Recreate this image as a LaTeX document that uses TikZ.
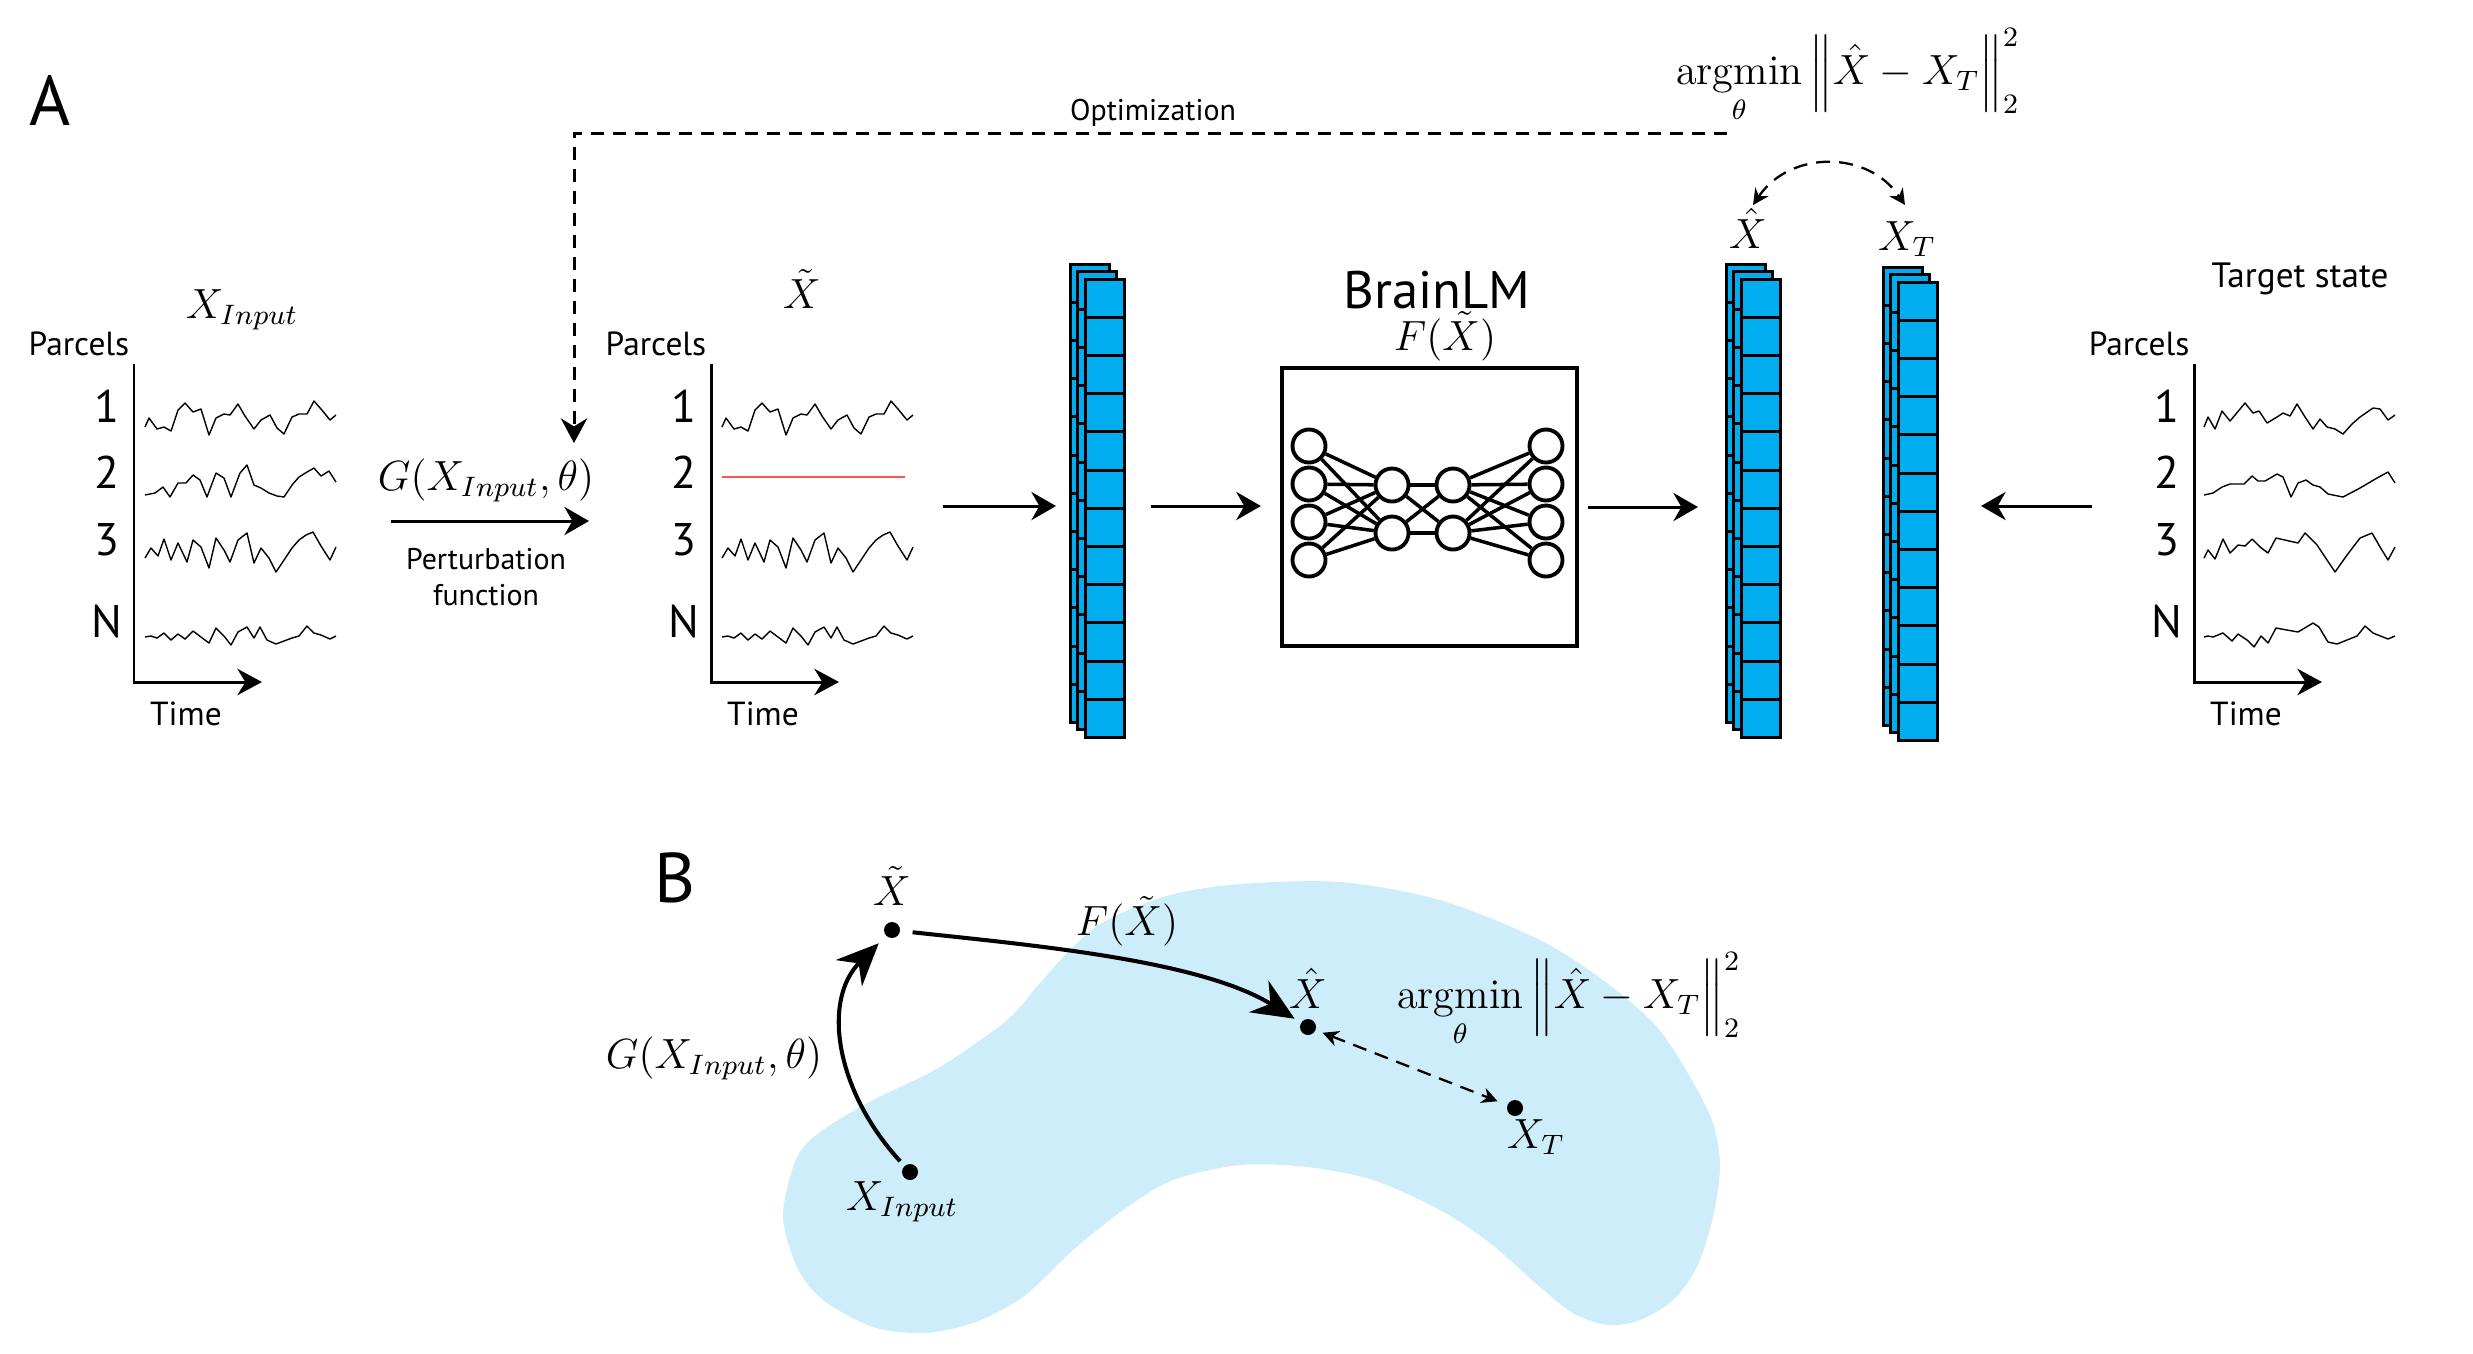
\documentclass[tikz,border=0pt]{standalone}
\usepackage{amsmath}
\usepackage{fontspec}
\setsansfont{PT Sans}
\usepackage{xcolor}
\usetikzlibrary{
    positioning,
    arrows.meta
}
\definecolor{tokenblue}{RGB}{0,174,239}
\definecolor{manifold}{RGB}{204,237,249}
\definecolor{zeroline}{RGB}{255,85,85}

\tikzset{%
    panel label/.style={%
        font=\sffamily\fontsize{20}{24}\selectfont,
        inner sep = 0pt,
    },
    axis text/.style={%
        font=\sffamily\fontsize{9.5}{11}\selectfont,
        inner sep = 0pt,
    },
    parcel id/.style={%
        font=\sffamily\fontsize{13}{15}\selectfont,
        inner sep = 0pt,
    },
    small text/.style={%
        font=\sffamily\fontsize{8.5}{10}\selectfont,
        inner sep = 0pt,
        align=center,
    },
    model title/.style={%
        font=\sffamily\fontsize{15}{17}\selectfont,
        inner sep = 0pt,
    },
    math label/.style={%
        font=\fontsize{12}{14}\selectfont,
        inner sep = 0pt,
    },
    axis line/.style={%
        line width=0.85pt,
        -{Stealth[length=7pt, width=7.5pt]},
    },
    arrow/.style={%
        line width=0.85pt,
        -{Stealth[length=7pt, width=8pt]},
    },
    trace/.style={%
        line width=0.4pt,
        line join=round,
    },
    zero line/.style={%
        draw=zeroline,
        line width=0.45pt,
    },
    token cell/.style={%
        draw=black,
        fill=tokenblue,
        line width=0.85pt,
    },
    model box/.style={%
        rectangle,
        draw,
        line width=1.15pt,
        minimum width=2.95cm,
        minimum height=2.78cm,
    },
    neuron/.style={%
        circle,
        draw,
        fill=white,
        line width=1.1pt,
        inner sep = 0pt,
        minimum size=0.33cm,
    },
    synapse/.style={%
        line width=1pt,
    },
    optimization/.style={%
        line width=0.85pt,
        dash pattern=on 0.13cm off 0.09cm,
        -{Stealth[length=7pt, width=7.5pt]},
    },
    compare/.style={%
        line width=0.65pt,
        dash pattern=on 0.14cm off 0.09cm,
        {Stealth[length=4.5pt, width=4.5pt]}-{Stealth[length=4.5pt, width=4.5pt]},
    },
    state/.style={%
        circle,
        fill=black,
        inner sep = 0pt,
        minimum size=0.16cm,
    },
    trajectory/.style={%
        line width=1.15pt,
        -{Stealth[length=12pt, width=10.5pt]},
    },
}

% parcel axes: #1 name, #2 x of the vertical axis
\newcommand{\parcelaxes}[2]{%
    \begin{scope}[shift={(#2,0)}]
        \node[axis text, anchor=base] (#1-parcels) at (-55,355) {Parcels};
        \node[parcel id, anchor=base] (#1-p1) at (-27,422) {1};
        \node[parcel id, anchor=base] (#1-p2) at (-27,488) {2};
        \node[parcel id, anchor=base] (#1-p3) at (-27,555) {3};
        \node[parcel id, anchor=base] (#1-pN) at (-27,637) {N};
        \draw[axis line] (0,364) |- (128,682);
        \node[axis text, anchor=base] (#1-time) at (52,725) {Time};
    \end{scope}
}

% token stack: #1 name, #2 #3 top left corner of the front layer
\newcommand{\tokenstack}[3]{%
    \foreach \off in {15,8,0} {
        \foreach \row in {0,...,11} {
            \draw[token cell] ({#2-\off},{#3-\off+\row*38.2}) rectangle ++(39,38.2);
        }
    }
    \coordinate (#1-w) at ({#2-15},506);
    \coordinate (#1-e) at ({#2+39},506);
}

% signals
\newcommand{\waveA}{(11,427) -- (15,418) -- (23,429) -- (30,427) -- (37,431) -- (44,410) -- (51,403) -- (59,412) -- (67,409) -- (75,435) -- (82,418) -- (90,414) -- (96,415) -- (104,404) -- (111,416) -- (120,429) -- (127,420) -- (136,415) -- (143,428) -- (150,434) -- (158,417) -- (165,414) -- (173,414) -- (180,401) -- (187,409) -- (196,420) -- (202,415)}
\newcommand{\waveB}{(11,495) -- (21,493) -- (29,487) -- (36,497) -- (44,483) -- (52,483) -- (59,475) -- (66,480) -- (73,497) -- (82,473) -- (90,478) -- (97,497) -- (106,473) -- (113,465) -- (120,485) -- (127,488) -- (135,493) -- (143,496) -- (150,497) -- (158,485) -- (165,477) -- (173,472) -- (180,468) -- (187,476) -- (195,471) -- (202,482)}
\newcommand{\waveC}{(11,558) -- (17,548) -- (24,556) -- (30,539) -- (37,560) -- (44,543) -- (53,562) -- (59,540) -- (67,547) -- (75,568) -- (82,538) -- (90,550) -- (96,562) -- (104,540) -- (113,533) -- (120,563) -- (127,548) -- (135,558) -- (142,572) -- (150,560) -- (158,548) -- (165,540) -- (172,535) -- (179,532) -- (187,546) -- (196,560) -- (202,547)}
\newcommand{\waveN}{(11,637) -- (17,636) -- (23,638) -- (30,633) -- (37,640) -- (44,634) -- (51,639) -- (59,631) -- (67,637) -- (75,643) -- (82,628) -- (90,636) -- (97,645) -- (104,632) -- (113,627) -- (120,638) -- (126,627) -- (133,640) -- (142,644) -- (150,641) -- (158,638) -- (165,636) -- (173,626) -- (180,633) -- (187,635) -- (196,639) -- (202,636)}
\newcommand{\targetA}{(10,427) -- (14,417) -- (21,429) -- (28,411) -- (36,421) -- (51,403) -- (59,413) -- (65,411) -- (73,423) -- (83,417) -- (89,413) -- (96,416) -- (103,404) -- (111,417) -- (119,429) -- (126,419) -- (133,427) -- (141,429) -- (149,434) -- (158,424) -- (166,417) -- (179,408) -- (186,409) -- (194,420) -- (201,415)}
\newcommand{\targetB}{(10,495) -- (19,493) -- (28,487) -- (36,484) -- (50,484) -- (58,476) -- (64,481) -- (71,481) -- (83,474) -- (89,477) -- (97,497) -- (104,483) -- (112,480) -- (119,485) -- (126,487) -- (134,494) -- (149,497) -- (166,488) -- (183,478) -- (194,472) -- (201,483)}
\newcommand{\targetC}{(10,558) -- (14,550) -- (21,559) -- (29,539) -- (36,553) -- (44,545) -- (51,546) -- (58,539) -- (66,547) -- (74,553) -- (82,538) -- (104,543) -- (111,533) -- (123,545) -- (131,557) -- (141,572) -- (153,555) -- (166,538) -- (178,533) -- (186,547) -- (194,560) -- (201,547)}
\newcommand{\targetN}{(10,637) -- (14,636) -- (19,637) -- (29,633) -- (38,641) -- (44,634) -- (53,640) -- (60,647) -- (67,636) -- (74,643) -- (82,628) -- (104,632) -- (119,623) -- (125,627) -- (134,642) -- (143,644) -- (163,636) -- (171,626) -- (179,633) -- (194,639) -- (201,636)}

\begin{document}
\begin{tikzpicture}[x=0.01cm, y=-0.01cm]
    \useasboundingbox (0,0) rectangle (2473,1353);

    %% panel A
    \node[panel label] (panelA) at (50,100) {A};

    % input signals
    \parcelaxes{plotA}{134}
    \node[math label, anchor=base] (xinA) at (242,318) {$X_{Input}$};
    \draw[trace, shift={(134,0)}] \waveA;
    \draw[trace, shift={(134,0)}] \waveB;
    \draw[trace, shift={(134,0)}] \waveC;
    \draw[trace, shift={(134,0)}] \waveN;

    \coordinate (plotA-out) at (391,521);
    \coordinate (plotB-in) at (589,521);
    \draw[arrow] (plotA-out) -- (plotB-in);
    \node[math label, anchor=base] (perturbG) at (486,490) {$G(X_{Input},\theta)$};
    \node[small text] (perturbText) at (486,577) {Perturbation\\function};

    % perturbed signals
    \parcelaxes{plotB}{711}
    \node[math label, anchor=base] (xtildeA) at (802,308) {$\tilde{X}$};
    \draw[trace, shift={(711,0)}] \waveA;
    \draw[zero line] (722,477) -- (905,477);
    \draw[trace, shift={(711,0)}] \waveC;
    \draw[trace, shift={(711,0)}] \waveN;

    % tokens and model
    \tokenstack{tokA}{1085}{279}
    \node[model box] (brainlm) at (1429.5,507) {};
    \node[model title, anchor=base] (brainlmTitle) at (1437,308) {BrainLM};
    \node[math label, anchor=base] (fmodel) at (1445,350) {$F(\tilde{X})$};

    \foreach \i/\y in {1/446,2/484,3/522,4/560} {
        \node[neuron] (in\i) at (1309,\y) {};
        \node[neuron] (out\i) at (1546,\y) {};
    }
    \foreach \i/\y in {1/485,2/533} {
        \node[neuron] (h\i) at (1392,\y) {};
        \node[neuron] (g\i) at (1453,\y) {};
    }
    \foreach \i in {1,...,4} {
        \foreach \j in {1,2} {
            \draw[synapse] (in\i) -- (h\j);
            \draw[synapse] (g\j) -- (out\i);
        }
    }
    \foreach \i in {1,2} {
        \foreach \j in {1,2} {
            \draw[synapse] (h\i) -- (g\j);
        }
    }

    \tokenstack{tokB}{1741}{279}
    \tokenstack{tokC}{1898}{282}

    \coordinate (plotB-out) at (943,506);
    \draw[arrow, shorten >=0.14cm] (plotB-out) -- (tokA-w);
    \draw[arrow, shorten <=0.27cm, shorten >=0.19cm] (tokA-e) -- (tokA-e -| brainlm.west);
    \draw[arrow, shorten <=0.09cm, shorten >=0.28cm] (brainlm.east) -- (brainlm.east -| tokB-w);

    \node[math label, anchor=base] (xhatA) at (1748,248) {$\hat{X}$};
    \node[math label, anchor=base] (xtA) at (1907,250) {$X_{T}$};
    \coordinate (xhatTip) at (1753,205);
    \coordinate (xtTip) at (1905,205);
    \draw[compare] (xhatTip) .. controls (1790,150) and (1868,150) .. (xtTip);

    % target signals
    \node[axis text, font=\sffamily\fontsize{10}{12}\selectfont, anchor=base] (target) at (2300,287) {Target state};
    \parcelaxes{plotD}{2194}
    \draw[trace, shift={(2194,0)}] \targetA;
    \draw[trace, shift={(2194,0)}] \targetB;
    \draw[trace, shift={(2194,0)}] \targetC;
    \draw[trace, shift={(2194,0)}] \targetN;
    \coordinate (plotD-in) at (2092,506);
    \draw[arrow, shorten >=0.44cm] (plotD-in) -- (tokC-e);

    % optimization loop
    \coordinate (optStart) at (1727,133);
    \coordinate (optEnd) at (574,443);
    \draw[optimization] (optStart) -| (optEnd);
    \node[small text] (optText) at (1153,113) {Optimization};
    \node[math label] (lossA) at (1848,76) {$\displaystyle\operatorname*{argmin}_{\theta}\left\|\hat{X}-X_{T}\right\|_{2}^{2}$};

    %% panel B
    \node[panel label] (panelB) at (675,878) {B};
    \fill[manifold] plot[smooth cycle] coordinates {
        (783,1215) (797,1157) (823,1130) (873,1100) (940,1067) (1007,1020)
        (1040,983) (1073,947) (1107,920) (1170,895) (1240,884) (1340,882)
        (1440,900) (1540,940) (1607,983) (1657,1027) (1690,1077) (1713,1123)
        (1720,1167) (1713,1217) (1697,1267) (1673,1300) (1640,1320) (1607,1325)
        (1573,1313) (1540,1287) (1490,1243) (1440,1210) (1373,1180) (1307,1167)
        (1240,1165) (1173,1180) (1123,1210) (1073,1250) (1023,1297) (973,1323)
        (923,1333) (873,1327) (823,1300) (797,1267)
    };

    \node[state] (sIn) at (910,1172) {};
    \node[state] (sTilde) at (892,930) {};
    \node[state] (sHat) at (1308,1027) {};
    \node[state] (sT) at (1515,1108) {};

    \node[math label, anchor=base] (lIn) at (902,1210) {$X_{Input}$};
    \node[math label, anchor=base] (lTilde) at (892,905) {$\tilde{X}$};
    \node[math label, anchor=base] (lHat) at (1308,1008) {$\hat{X}$};
    \node[math label, anchor=base] (lT) at (1536,1148) {$X_{T}$};
    \node[math label, anchor=base] (lG) at (714,1068) {$G(X_{Input},\theta)$};
    \node[math label, anchor=base] (lF) at (1127,935) {$F(\tilde{X})$};
    \node[math label] (lossB) at (1569,1000) {$\displaystyle\operatorname*{argmin}_{\theta}\left\|\hat{X}-X_{T}\right\|_{2}^{2}$};

    \draw[trajectory, shorten <=0.06cm, shorten >=0.1cm] (sIn) .. controls (835,1090) and (822,1000) .. (sTilde);
    \draw[trajectory, shorten <=0.12cm, shorten >=0.07cm] (sTilde) .. controls (1030,945) and (1200,960) .. (sHat);
    \draw[compare, shorten <=0.07cm, shorten >=0.1cm] (sHat) -- (sT);
\end{tikzpicture}
\end{document}
